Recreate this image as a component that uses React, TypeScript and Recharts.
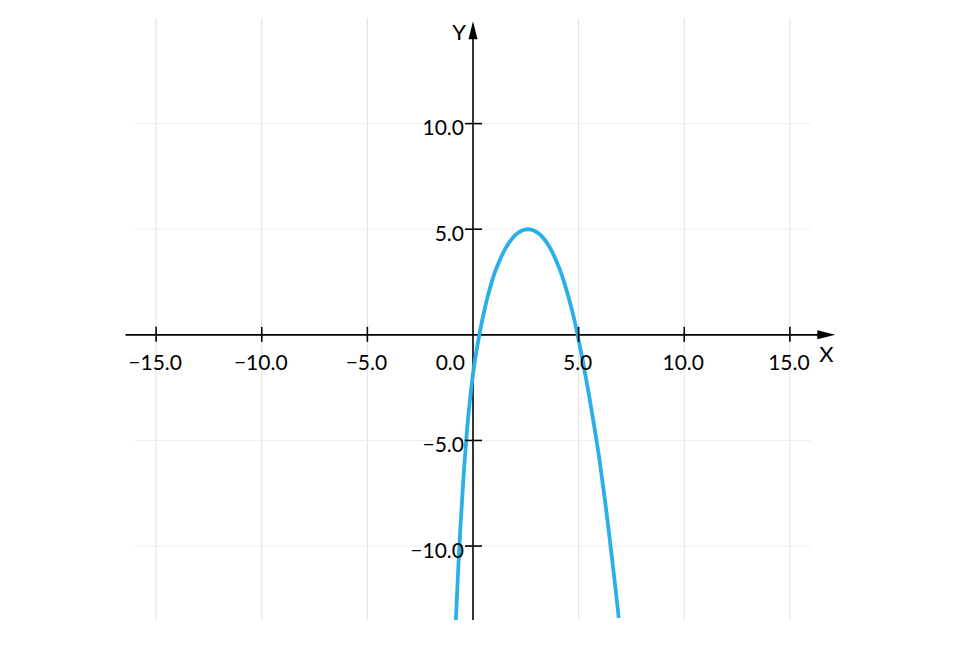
import React from 'react';
import { LineChart, Line, XAxis, YAxis, ReferenceLine, ReferenceDot } from 'recharts';

// curve points
const xs = [-0.81, -0.7, -0.6, -0.45, -0.3, -0.15, 0, 0.15, 0.3, 0.45, 0.65, 0.8, 1.0, 1.25, 1.5, 1.75, 2.0, 2.3, 2.6,
  2.9, 3.2, 3.45, 3.7, 3.95, 4.2, 4.4, 4.6, 4.8, 4.95, 5.2, 5.5, 5.75, 6.0, 6.25, 6.5, 6.7, 6.9];
const ys = [-13.5, -11.1, -9.2, -6.73, -4.7, -3.15, -1.85, -0.85, 0, 0.75, 1.63, 2.2, 2.86, 3.5, 4.02, 4.42, 4.72, 4.93, 5.0,
  4.93, 4.72, 4.42, 4.02, 3.48, 2.84, 2.21, 1.5, 0.7, 0, -1.25, -2.9, -4.4, -6.0, -7.85, -9.9, -11.6, -13.4];

const xTicks = [-15, -10, -5, 5, 10, 15];
const yTicks = [-10, -5, 5, 10];

const data = xs.map((x, i) => ({ x, y: ys[i] }));

const FONT = 'Lato, "Open Sans", sans-serif';
const fmt = (v: number) => (v < 0 ? '\u2212' + Math.abs(v).toFixed(1) : v.toFixed(1));

const XArrow = (props: any) => {
  const { x1, y1, x2 } = props;
  return (
    <g>
      <line x1={x1} y1={y1} x2={x2 - 10} y2={y1} stroke="#000" strokeWidth={1.6} />
      <polygon points={`${x2},${y1} ${x2 - 18},${y1 - 4.5} ${x2 - 18},${y1 + 4.5}`} fill="#000" />
      <text x={x2 - 9} y={y1 + 19} fontSize={22} fontFamily={FONT} textAnchor="middle" dominantBaseline="central">X</text>
    </g>
  );
};

const YArrow = (props: any) => {
  const { x1, y1, y2 } = props;
  const top = Math.min(y1, y2);
  const bottom = Math.max(y1, y2);
  return (
    <g>
      <line x1={x1} y1={bottom} x2={x1} y2={top + 10} stroke="#000" strokeWidth={1.6} />
      <polygon points={`${x1},${top} ${x1 - 4.5},${top + 18} ${x1 + 4.5},${top + 18}`} fill="#000" />
      <text x={x1 - 14} y={top + 10} fontSize={22} fontFamily={FONT} textAnchor="middle" dominantBaseline="central">Y</text>
    </g>
  );
};

const XTick = (v: number) => (props: any) => {
  const { cx, cy } = props;
  return (
    <g>
      <line x1={cx} y1={cy - 8} x2={cx} y2={cy + 7} stroke="#000" strokeWidth={1.6} />
      <text x={cx - 1} y={cy + 27} fontSize={21} fontFamily={FONT} textAnchor="middle" dominantBaseline="central">{fmt(v)}</text>
    </g>
  );
};

const YTick = (v: number) => (props: any) => {
  const { cx, cy } = props;
  return (
    <g>
      <line x1={cx - 8} y1={cy} x2={cx + 9} y2={cy} stroke="#000" strokeWidth={1.6} />
      <text x={cx - 9} y={cy + 3} fontSize={21} fontFamily={FONT} textAnchor="end" dominantBaseline="central">{fmt(v)}</text>
    </g>
  );
};

const Origin = (props: any) => {
  const { cx, cy } = props;
  return (
    <text x={cx - 8} y={cy + 27} fontSize={21} fontFamily={FONT} textAnchor="end" dominantBaseline="central">0.0</text>
  );
};

export default function App() {
  return (
    <div style={{ position: 'absolute', left: 0, top: 0, width: 960, height: 645, background: '#fff' }}>
      <LineChart width={960} height={645} data={data} margin={{ top: 18, right: 149, bottom: 25, left: 135 }}>
        <XAxis type="number" dataKey="x" domain={[-16, 16]} hide allowDataOverflow />
        <YAxis type="number" domain={[-13.5, 15]} hide allowDataOverflow />

        {xTicks.map(v => (
          <ReferenceLine key={'gx' + v} x={v} stroke="#e0e0e0" strokeWidth={1} />
        ))}
        {yTicks.map(v => (
          <ReferenceLine key={'gy' + v} y={v} stroke="#efefef" strokeWidth={1} />
        ))}

        <ReferenceLine segment={[{ x: -16.45, y: 0 }, { x: 17.15, y: 0 }]} ifOverflow="visible" shape={XArrow} />
        <ReferenceLine segment={[{ x: 0, y: -13.5 }, { x: 0, y: 14.85 }]} ifOverflow="visible" shape={YArrow} />

        {xTicks.map(v => (
          <ReferenceDot key={'tx' + v} x={v} y={0} ifOverflow="visible" shape={XTick(v)} />
        ))}
        {yTicks.map(v => (
          <ReferenceDot key={'ty' + v} x={0} y={v} ifOverflow="visible" shape={YTick(v)} />
        ))}
        <ReferenceDot x={0} y={0} ifOverflow="visible" shape={Origin} />

        <Line type="monotone" dataKey="y" stroke="#29b0e8" strokeWidth={3.8} dot={false} isAnimationActive={false} />
      </LineChart>
    </div>
  );
}
